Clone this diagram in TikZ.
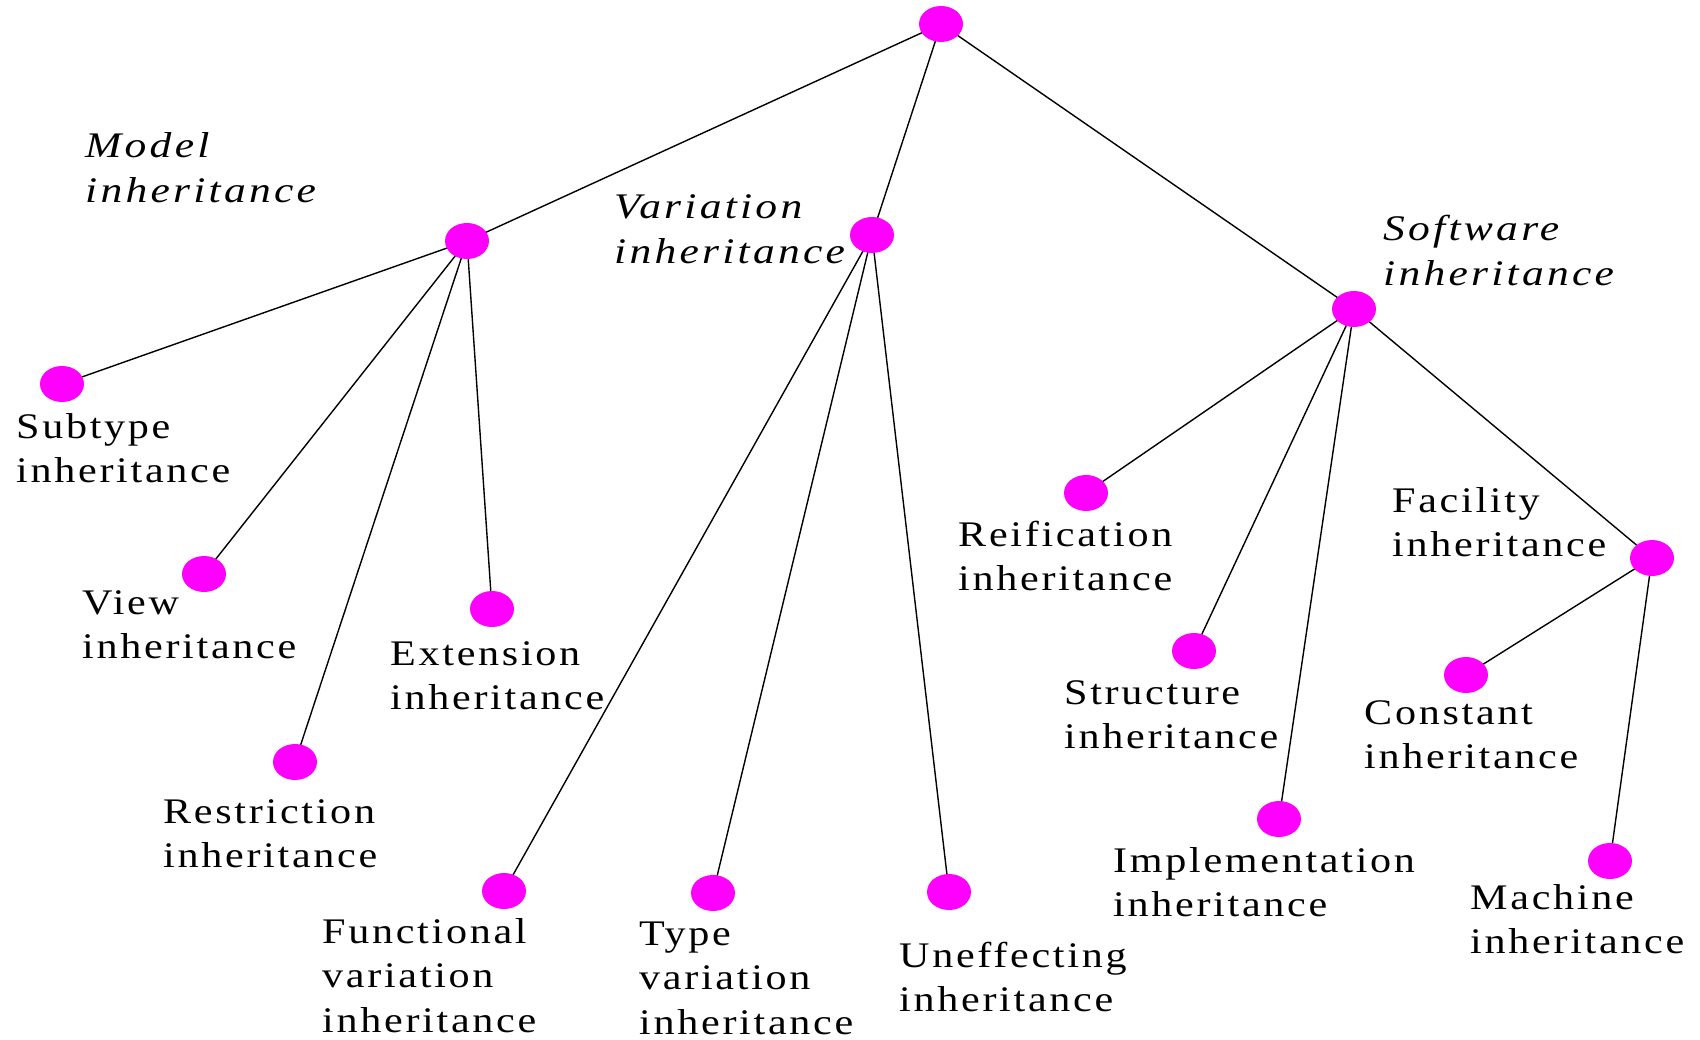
\documentclass[tikz,border=0pt]{standalone}
\usepackage{fontspec}
\setmainfont{Liberation Serif}[FakeStretch=1.17, LetterSpace=7.5,
  ItalicFeatures={FakeStretch=1.21, LetterSpace=9}]
\usetikzlibrary{shapes.geometric,backgrounds}
\newcommand\labtwo[2]{\vtop{\baselineskip=44.5pt\lineskiplimit=0pt\hbox{#1}\hbox{#2}}}
\newcommand\labthree[3]{\vtop{\baselineskip=44.5pt\lineskiplimit=0pt\hbox{#1}\hbox{#2}\hbox{#3}}}
\definecolor{dotpink}{RGB}{255,0,255}
\tikzset{
  dot/.style={ellipse, fill=dotpink, draw=none, minimum width=44pt, minimum height=36pt, inner sep=0pt},
  lab/.style={anchor=base west, inner sep=0pt, font=\fontsize{36}{44.5}\selectfont},
  itlab/.style={lab, font=\fontsize{36}{44.5}\selectfont\itshape},
  link/.style={draw=black, line width=1.4pt}
}
\begin{document}
\begin{tikzpicture}[x=1pt, y=-1pt]
\useasboundingbox (0,0) rectangle (1700,1040);
% tree vertices
\node[dot] (root) at (941,24) {};
\node[dot] (model) at (467,241) {};
\node[dot] (var) at (872,235) {};
\node[dot] (soft) at (1354,309) {};
\node[dot] (subtype) at (62,384) {};
\node[dot] (view) at (204,574) {};
\node[dot] (restr) at (295,762) {};
\node[dot] (ext) at (492,609) {};
\node[dot] (func) at (504,891) {};
\node[dot] (type) at (713,893) {};
\node[dot] (uneff) at (949,892) {};
\node[dot] (reif) at (1086,493) {};
\node[dot] (struct) at (1194,651) {};
\node[dot] (impl) at (1279,819) {};
\node[dot] (fac) at (1652,558) {};
\node[dot] (const) at (1466,675) {};
\node[dot] (mach) at (1610,861) {};
% edges, kept beneath the vertices
\begin{pgfonlayer}{background}
\foreach \a/\b in {root/model, root/var, root/soft,
  model/subtype, model/view, model/restr, model/ext,
  var/func, var/type, var/uneff,
  soft/reif, soft/struct, soft/impl, soft/fac,
  fac/const, fac/mach}
  \draw[link] (\a.center) -- (\b.center);
\end{pgfonlayer}
% labels
\node[itlab] (lmodel) at (85,158) {\labtwo{Model}{inheritance}};
\node[itlab] (lvar) at (614,219) {\labtwo{Variation}{inheritance}};
\node[itlab] (lsoft) at (1383,241) {\labtwo{Software}{inheritance}};
\node[lab] (lsubtype) at (16,438) {\labtwo{Subtype}{inheritance}};
\node[lab] (lview) at (82,614) {\labtwo{View}{inheritance}};
\node[lab] (lrestr) at (163,823) {\labtwo{Restriction}{inheritance}};
\node[lab] (lext) at (390,665) {\labtwo{Extension}{inheritance}};
\node[lab] (lfunc) at (322,943) {\labthree{Functional}{variation}{inheritance}};
\node[lab] (ltype) at (639,945) {\labthree{Type}{variation}{inheritance}};
\node[lab] (luneff) at (899,967) {\labtwo{Uneffecting}{inheritance}};
\node[lab] (lreif) at (958,546) {\labtwo{Reification}{inheritance}};
\node[lab] (lstruct) at (1064,704) {\labtwo{Structure}{inheritance}};
\node[lab] (limpl) at (1113,872) {\labtwo{Implementation}{inheritance}};
\node[lab] (lfac) at (1392,512) {\labtwo{Facility}{inheritance}};
\node[lab] (lconst) at (1364,724) {\labtwo{Constant}{inheritance}};
\node[lab] (lmach) at (1470,909) {\labtwo{Machine}{inheritance}};
\end{tikzpicture}
\end{document}
